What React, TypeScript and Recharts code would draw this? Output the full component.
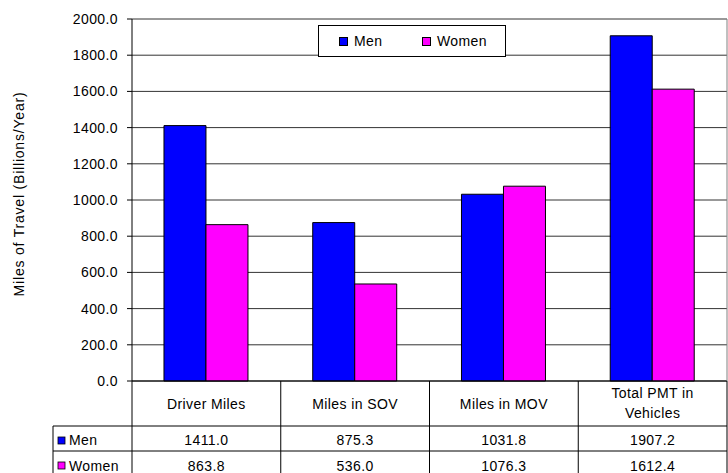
import React from "react";
import { BarChart, Bar, XAxis, YAxis, CartesianGrid, Legend } from "recharts";

const categories = ["Driver Miles", "Miles in SOV", "Miles in MOV", "Total PMT in Vehicles"];
const menMiles = [1411.0, 875.3, 1031.8, 1907.2];
const womenMiles = [863.8, 536.0, 1076.3, 1612.4];
const seriesNames = ["Men", "Women"];
const seriesColors = ["#0000ff", "#ff00ff"];
const yTicks = [0, 200, 400, 600, 800, 1000, 1200, 1400, 1600, 1800, 2000];

const data = categories.map((name, i) => ({
  name,
  Men: menMiles[i],
  Women: womenMiles[i],
}));
const seriesValues = [menMiles, womenMiles];

// layout
const W = 728;
const H = 473;
const PLOT_LEFT = 132;
const PLOT_RIGHT = 727;
const PLOT_TOP = 19;
const PLOT_BOTTOM = 381;
const BAND = (PLOT_RIGHT - PLOT_LEFT) / categories.length;
const ROW_LABEL_LEFT = 53;
const FONT = "'Liberation Sans', Arial, Helvetica, sans-serif";

function wrap(text: string, max = 12) {
  const lines: string[] = [];
  let cur = "";
  text.split(" ").forEach((w) => {
    const next = cur ? cur + " " + w : w;
    if (next.length > max && cur) {
      lines.push(cur);
      cur = w;
    } else cur = next;
  });
  if (cur) lines.push(cur);
  return lines;
}

function TableTick(props: any) {
  const { x, y, payload } = props;
  const idx = categories.indexOf(payload.value);
  const left = x - BAND / 2;
  const right = x + BAND / 2;
  const lines = wrap(payload.value);
  const headerBase = lines.length > 1 ? [17, 37] : [28];
  const rowTops = [45, 70];
  return (
    <g fontFamily={FONT} fontSize={14} fill="#000" letterSpacing={0.4}>
      <line x1={left} x2={left} y1={y} y2={y + 100} stroke="#000" />
      {idx === categories.length - 1 && (
        <>
          <line x1={right} x2={right} y1={PLOT_TOP} y2={y} stroke="#808080" />
          <line x1={right} x2={right} y1={y} y2={y + 100} stroke="#000" />
        </>
      )}
      {rowTops.map((t) => (
        <line key={t} x1={left} x2={right} y1={y + t} y2={y + t} stroke="#000" />
      ))}
      {lines.map((l, i) => (
        <text key={l} x={x} y={y + headerBase[i]} textAnchor="middle">
          {l}
        </text>
      ))}
      {seriesValues.map((vals, s) => (
        <text key={s} x={x} y={y + rowTops[s] + 19 + s} textAnchor="middle">
          {vals[idx].toFixed(1)}
        </text>
      ))}
      {idx === 0 && (
        <g>
          <line x1={ROW_LABEL_LEFT} x2={ROW_LABEL_LEFT} y1={y + 45} y2={y + 100} stroke="#000" />
          {rowTops.map((t, s) => (
            <g key={t}>
              <line x1={ROW_LABEL_LEFT} x2={left} y1={y + t} y2={y + t} stroke="#000" />
              <rect x={58} y={y + t + 11} width={7} height={7} fill={seriesColors[s]} stroke="#000" strokeWidth={0.8} />
              <text x={69} y={y + t + 19 + s}>{seriesNames[s]}</text>
            </g>
          ))}
        </g>
      )}
    </g>
  );
}

function YLabel() {
  const cx = 24;
  const cy = 194;
  return (
    <text
      x={cx}
      y={cy}
      transform={`rotate(-90 ${cx} ${cy})`}
      textAnchor="middle"
      fontFamily={FONT}
      fontSize={14}
      letterSpacing={0.8}
      fill="#000"
    >
      Miles of Travel (Billions/Year)
    </text>
  );
}

function LegendBox(props: any) {
  const items = props.payload || [];
  const pos = [20, 103];
  return (
    <div
      style={{
        position: "relative",
        width: 188,
        height: 32,
        boxSizing: "border-box",
        border: "1px solid #000",
        background: "#fff",
        fontFamily: FONT,
        fontSize: 14,
        letterSpacing: 0.4,
        color: "#000",
      }}
    >
      {items.map((it: any, i: number) => (
        <div key={it.value} style={{ position: "absolute", left: pos[i], top: 7, display: "flex", alignItems: "center", lineHeight: "16px" }}>
          <span
            style={{
              display: "inline-block",
              width: 7,
              height: 7,
              background: it.color,
              border: "1px solid #000",
              marginRight: 6,
            }}
          />
          {it.value}
        </div>
      ))}
    </div>
  );
}

export default function App() {
  return (
    <div style={{ position: "absolute", left: 0, top: 0, width: W, height: H, background: "#fff" }}>
      <BarChart
        width={W}
        height={H}
        data={data}
        margin={{ top: PLOT_TOP, right: W - PLOT_RIGHT, left: 0, bottom: 0 }}
        barCategoryGap="21.5%"
        barGap={0}
      >
        <CartesianGrid vertical={false} stroke="#333" />
        <XAxis
          dataKey="name"
          height={H - PLOT_BOTTOM}
          axisLine={{ stroke: "#000" }}
          tickLine={false}
          tickSize={0}
          tickMargin={0}
          interval={0}
          tick={<TableTick />}
        />
        <YAxis
          width={PLOT_LEFT}
          domain={[0, 2000]}
          ticks={yTicks}
          interval={0}
          tickFormatter={(v: number) => v.toFixed(1)}
          axisLine={{ stroke: "#000" }}
          tickLine={{ stroke: "#000" }}
          tickSize={5}
          tickMargin={9}
          tick={{ fill: "#000", fontSize: 14, fontFamily: FONT, letterSpacing: 0.4 }}
          label={<YLabel />}
        />
        <Legend
          layout="horizontal"
          verticalAlign="middle"
          align="center"
          content={<LegendBox />}
          wrapperStyle={{ left: 318, top: 25, width: 188, height: 32, bottom: "auto", right: "auto" }}
        />
        {seriesNames.map((s, i) => (
          <Bar key={s} dataKey={s} name={s} fill={seriesColors[i]} stroke="#000" strokeWidth={1} isAnimationActive={false} />
        ))}
      </BarChart>
    </div>
  );
}
